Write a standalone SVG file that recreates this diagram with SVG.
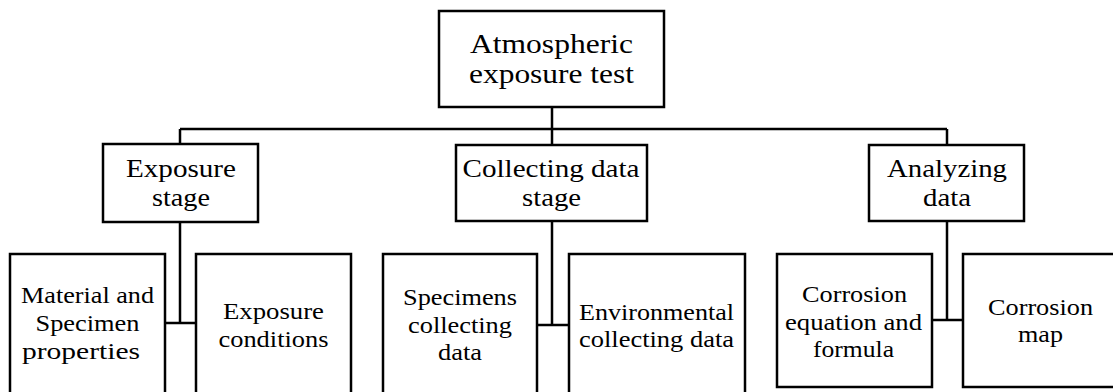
<svg xmlns="http://www.w3.org/2000/svg" width="1113" height="392" viewBox="0 0 1113 392">
<style>
.box{fill:#fff;stroke:#000;stroke-width:2.5}
.ln{fill:none;stroke:#000;stroke-width:2.5}
text{font-family:"Liberation Serif","Times New Roman",serif;fill:#000;text-anchor:middle}
.t1{font-size:27px}
.t2{font-size:25px}
.t3{font-size:24px}
</style>
<rect width="1113" height="392" fill="#fff"/>
<g id="connectors">
<path class="ln" d="M552 107V129M180 129H947M180 129V144M552 129V145M947 129V145"/>
<path class="ln" d="M180 222V323M165 323H196"/>
<path class="ln" d="M552 221V325M537 325H569"/>
<path class="ln" d="M947 221V320M932 320H963"/>
</g>
<g id="root">
<rect class="box" x="439" y="11" width="225" height="96"/>
<text class="t1" x="551.5" y="53" textLength="163" lengthAdjust="spacingAndGlyphs">Atmospheric</text>
<text class="t1" x="551.5" y="83" textLength="165" lengthAdjust="spacingAndGlyphs">exposure test</text>
</g>
<g id="exposure-stage">
<rect class="box" x="103" y="144" width="155" height="78"/>
<text class="t2" x="181" y="177" textLength="110" lengthAdjust="spacingAndGlyphs">Exposure</text>
<text class="t2" x="181" y="206" textLength="58" lengthAdjust="spacingAndGlyphs">stage</text>
</g>
<g id="collecting-stage">
<rect class="box" x="456" y="145" width="191" height="76"/>
<text class="t2" x="551" y="177" textLength="177" lengthAdjust="spacingAndGlyphs">Collecting data</text>
<text class="t2" x="551.5" y="206" textLength="59" lengthAdjust="spacingAndGlyphs">stage</text>
</g>
<g id="analyzing">
<rect class="box" x="869" y="145" width="155" height="76"/>
<text class="t2" x="947" y="177" textLength="120" lengthAdjust="spacingAndGlyphs">Analyzing</text>
<text class="t2" x="947" y="206" textLength="48" lengthAdjust="spacingAndGlyphs">data</text>
</g>
<g id="material">
<rect class="box" x="10" y="254" width="155" height="145"/>
<text class="t3" x="87.5" y="303" textLength="133" lengthAdjust="spacingAndGlyphs">Material and</text>
<text class="t3" x="87.5" y="331" textLength="104" lengthAdjust="spacingAndGlyphs">Specimen</text>
<text class="t3" x="81" y="359" textLength="118" lengthAdjust="spacingAndGlyphs">properties</text>
</g>
<g id="exposure-conditions">
<rect class="box" x="196" y="254" width="155" height="145"/>
<text class="t3" x="273.5" y="319" textLength="101" lengthAdjust="spacingAndGlyphs">Exposure</text>
<text class="t3" x="273.5" y="347" textLength="110" lengthAdjust="spacingAndGlyphs">conditions</text>
</g>
<g id="specimens">
<rect class="box" x="383" y="254" width="154" height="145"/>
<text class="t3" x="460" y="305" textLength="114" lengthAdjust="spacingAndGlyphs">Specimens</text>
<text class="t3" x="460" y="333" textLength="104" lengthAdjust="spacingAndGlyphs">collecting</text>
<text class="t3" x="460" y="360" textLength="44" lengthAdjust="spacingAndGlyphs">data</text>
</g>
<g id="environmental">
<rect class="box" x="569" y="254" width="176" height="145"/>
<text class="t3" x="656.5" y="320" textLength="155" lengthAdjust="spacingAndGlyphs">Environmental</text>
<text class="t3" x="656.5" y="347" textLength="155" lengthAdjust="spacingAndGlyphs">collecting data</text>
</g>
<g id="corrosion-equation">
<rect class="box" x="777" y="254" width="155" height="133"/>
<text class="t3" x="854.5" y="302" textLength="105" lengthAdjust="spacingAndGlyphs">Corrosion</text>
<text class="t3" x="853.5" y="330" textLength="137" lengthAdjust="spacingAndGlyphs">equation and</text>
<text class="t3" x="853.5" y="357" textLength="81" lengthAdjust="spacingAndGlyphs">formula</text>
</g>
<g id="corrosion-map">
<rect class="box" x="963" y="254" width="160" height="133"/>
<text class="t3" x="1040.5" y="315" textLength="105" lengthAdjust="spacingAndGlyphs">Corrosion</text>
<text class="t3" x="1040.5" y="342" textLength="45" lengthAdjust="spacingAndGlyphs">map</text>
</g>
</svg>
